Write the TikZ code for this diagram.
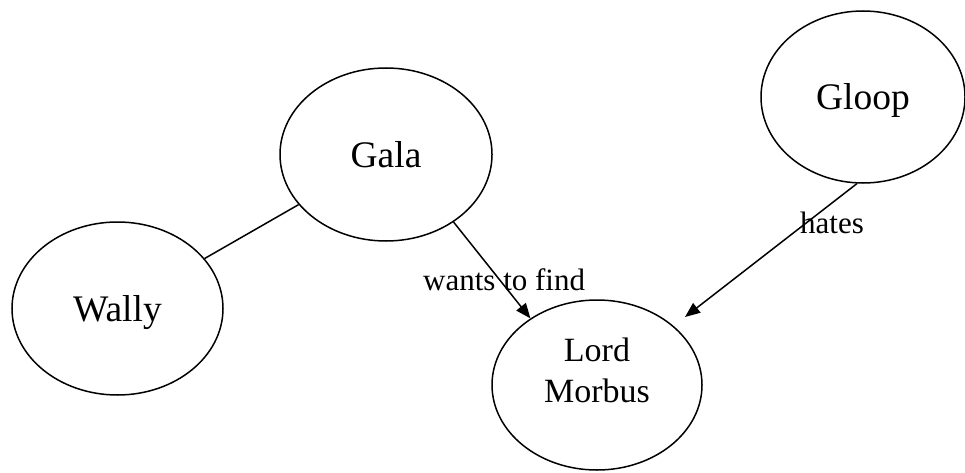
\documentclass[tikz,border=0pt]{standalone}
\usepackage{fontspec}
\setmainfont{Liberation Serif}
\usetikzlibrary{shapes.geometric,arrows.meta}
\begin{document}
\begin{tikzpicture}[x=1pt,y=-1pt,
  ent/.style={draw, ellipse, line width=1.5pt, inner sep=0pt,
    font=\fontsize{37.5}{42}\selectfont, text height=26pt, text depth=0pt},
  rel/.style={line width=1.5pt},
  arr/.style={rel, -{Triangle[length=15pt,width=12pt]}},
  lbl/.style={inner sep=0pt, font=\fontsize{31}{36}\selectfont, anchor=base west}]
\useasboundingbox (0,0) rectangle (965,473);
\node[ent, minimum width=212pt, minimum height=173pt] (gala) at (386,154.5) {Gala};
\node[ent, minimum width=211pt, minimum height=173pt] (wally) at (117.5,308.5) {Wally};
\node[ent, minimum width=204pt, minimum height=172pt] (gloop) at (863,97) {Gloop};
\node[ent, minimum width=210pt, minimum height=170pt] (morbus) at (597,385) {};
\node[inner sep=0pt, align=center, font=\fontsize{34}{41}\selectfont] (morbustext) at (597,370) {Lord\\Morbus};
\coordinate (hatesend) at (685,317);
\draw[rel] (wally) -- (gala);
\draw[arr] (gala.-45) -- (morbus.135);
\draw[arr] (gloop.-94) -- (hatesend);
\node[lbl] (wtf) at (423,290) {wants to find};
\node[lbl] (hates) at (800,233) {hates};
\end{tikzpicture}
\end{document}
